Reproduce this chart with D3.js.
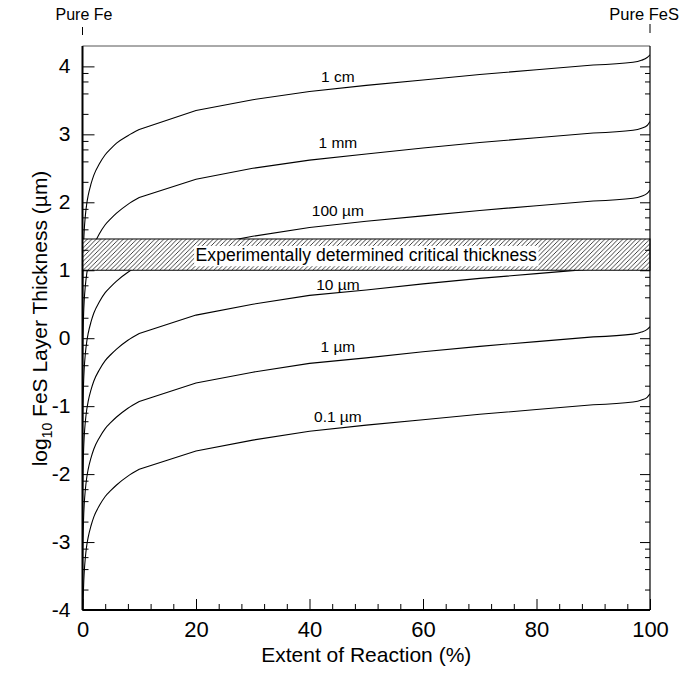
<!DOCTYPE html>
<html>
<head>
<meta charset="utf-8">
<script src="https://cdn.jsdelivr.net/npm/d3@7"></script>
<style>
  body { margin: 0; background: #fff; }
  svg { font-family: "Liberation Sans", Arial, sans-serif; }
  .axis text { fill: #000; }
  .axis line { stroke: #000; }
</style>
</head>
<body>
<svg id="chart" width="680" height="675"></svg>
<script>
// Extent of reaction (%) sampled along every curve
const extent = [0.01, 0.05, 0.1, 0.2, 0.3, 0.5, 0.75, 1, 1.5, 2, 3, 4, 5, 6, 8, 10,
                20, 30, 40, 50, 60, 70, 80, 90, 97, 98.5, 99.5, 100];

// log10 FeS layer thickness (um)
const thick1cm  = [0.07, 0.77, 1.10, 1.40, 1.58, 1.80, 1.98, 2.10, 2.27, 2.40, 2.57, 2.70, 2.79, 2.87, 2.98, 3.07,
                   3.35, 3.51, 3.63, 3.72, 3.80, 3.88, 3.95, 4.02, 4.06, 4.09, 4.13, 4.17];
const thick1mm  = [-0.93, -0.23, 0.07, 0.37, 0.55, 0.77, 0.95, 1.07, 1.24, 1.37, 1.54, 1.67, 1.76, 1.84, 1.97, 2.07,
                   2.34, 2.50, 2.62, 2.71, 2.80, 2.88, 2.95, 3.02, 3.06, 3.09, 3.13, 3.19];
const thick100um = [-1.93, -1.23, -0.93, -0.63, -0.45, -0.23, -0.05, 0.07, 0.24, 0.37, 0.54, 0.67, 0.76, 0.84, 0.97, 1.07,
                   1.34, 1.50, 1.63, 1.72, 1.80, 1.88, 1.95, 2.02, 2.06, 2.09, 2.13, 2.18];
const thick10um = [-2.93, -2.23, -1.93, -1.63, -1.45, -1.23, -1.05, -0.93, -0.76, -0.63, -0.46, -0.33, -0.24, -0.16, -0.03, 0.07,
                   0.34, 0.50, 0.63, 0.71, 0.80, 0.88, 0.95, 1.02, 1.06, 1.09, 1.13, 1.18];
const thick1um  = [-3.93, -3.23, -2.93, -2.63, -2.45, -2.23, -2.05, -1.93, -1.76, -1.63, -1.46, -1.33, -1.24, -1.16, -1.03, -0.93,
                   -0.66, -0.50, -0.37, -0.29, -0.20, -0.12, -0.05, 0.02, 0.06, 0.09, 0.13, 0.17];
const thick01um = [-4.93, -4.23, -3.93, -3.63, -3.45, -3.23, -3.05, -2.93, -2.76, -2.63, -2.46, -2.33, -2.24, -2.16, -2.03, -1.93,
                   -1.66, -1.50, -1.37, -1.28, -1.20, -1.12, -1.05, -0.98, -0.94, -0.91, -0.87, -0.82];

const sizeLabels = ["1 cm", "1 mm", "100 \u00b5m", "10 \u00b5m", "1 \u00b5m", "0.1 \u00b5m"];
const sizeSeries = [thick1cm, thick1mm, thick100um, thick10um, thick1um, thick01um];
// where each curve label sits (extent %, log10 thickness)
const labelExtent = [45, 45, 45, 45, 45, 45];
const labelLog = [3.85, 2.88, 1.88, 0.785, -0.12, -1.155];

// experimentally determined critical thickness band (log10 um)
const critBand = [1.0, 1.46];

const xTicks = [0, 20, 40, 60, 80, 100];
const yTicks = [-4, -3, -2, -1, 0, 1, 2, 3, 4];

var margin = { top: 46, right: 30, bottom: 65, left: 82.5 };
var width = 680 - margin.left - margin.right;
var height = 675 - margin.top - margin.bottom;

var x = d3.scaleLinear().domain([0, 100]).range([0, width]);
var y = d3.scaleLinear().domain([-4, 4.3]).range([height, 0]);

const xMinor = d3.range(0, 101, 4).filter(v => v % 20 !== 0);
const yMinor = [];
yTicks.forEach(t => [2, 4, 6, 8].forEach(m => {
    const v = t + Math.log10(m);
    if (v < 4.28) yMinor.push(v);
}));

const svg = d3.select("#chart");
const defs = svg.append("defs");

defs.append("clipPath").attr("id", "plot-clip")
    .append("rect").attr("width", width).attr("height", height);

const hatch = defs.append("pattern")
    .attr("id", "hatch")
    .attr("patternUnits", "userSpaceOnUse")
    .attr("width", 4.5).attr("height", 4.5);
hatch.append("rect").attr("width", 4.5).attr("height", 4.5).attr("fill", "#fff");
hatch.append("path")
    .attr("d", "M-1,1 l2,-2 M0,4.5 l4.5,-4.5 M3.5,5.5 l2,-2")
    .attr("stroke", "#000").attr("stroke-width", 0.75);

const g = svg.append("g")
    .attr("transform", "translate(" + margin.left + "," + margin.top + ")");

// Curves: smooth near the ends, straight segments between 10% and 90%
const pts = vals => vals.map((v, i) => [extent[i], v]);
const smooth = d3.line().x(d => x(d[0])).y(d => y(d[1])).curve(d3.curveMonotoneX);
const straight = d3.line().x(d => x(d[0])).y(d => y(d[1]));
const i10 = extent.indexOf(10), i90 = extent.indexOf(90);
function curvePath(vals) {
    const p = pts(vals);
    return smooth(p.slice(0, i10 + 1))
        + straight(p.slice(i10, i90 + 1)).replace(/^M/, "L")
        + smooth(p.slice(i90)).replace(/^M/, "L");
}

g.append("g").attr("clip-path", "url(#plot-clip)")
    .selectAll(".curve")
    .data(sizeSeries)
    .enter()
    .append("path")
    .attr("class", "curve")
    .attr("d", d => curvePath(d))
    .attr("fill", "none")
    .attr("stroke", "#000")
    .attr("stroke-width", 1.1);

// Curve labels
g.selectAll(".size-label")
    .data(sizeLabels)
    .enter()
    .append("text")
    .attr("class", "size-label")
    .attr("x", (d, i) => x(labelExtent[i]))
    .attr("y", (d, i) => y(labelLog[i]))
    .attr("dy", "0.35em")
    .attr("text-anchor", "middle")
    .attr("font-size", 15.5)
    .text(d => d);

// Critical thickness band
g.append("rect")
    .attr("x", 0)
    .attr("width", width)
    .attr("y", y(critBand[1]))
    .attr("height", y(critBand[0]) - y(critBand[1]))
    .attr("fill", "url(#hatch)")
    .attr("stroke", "#000")
    .attr("stroke-width", 1);

const bandLabel = g.append("text")
    .attr("x", x(50))
    .attr("y", (y(critBand[0]) + y(critBand[1])) / 2)
    .attr("dy", "0.36em")
    .attr("text-anchor", "middle")
    .attr("font-size", 17.6)
    .text("Experimentally determined critical thickness");
const bb = bandLabel.node().getBBox();
g.insert("rect", "text:last-child")
    .attr("x", bb.x - 1.5)
    .attr("y", y(critBand[1]) + 7)
    .attr("width", bb.width + 3)
    .attr("height", y(critBand[0]) - y(critBand[1]) - 11)
    .attr("fill", "#fff");
bandLabel.raise();

// Axes
g.append("g")
    .attr("class", "axis")
    .attr("transform", "translate(0," + height + ")")
    .call(d3.axisBottom(x).tickValues(xTicks).tickSize(-11).tickPadding(11))
    .call(a => a.select(".domain").remove())
    .selectAll("text").attr("font-size", 22);

g.append("g")
    .attr("class", "axis")
    .attr("transform", "translate(0," + height + ")")
    .call(d3.axisBottom(x).tickValues(xMinor).tickSize(-6).tickFormat(""))
    .call(a => a.select(".domain").remove());

g.append("g")
    .attr("class", "axis")
    .call(d3.axisLeft(y).tickValues(yTicks).tickSize(-12).tickPadding(12).tickFormat(d => String(d)))
    .call(a => a.select(".domain").remove())
    .selectAll("text").attr("font-size", 21).attr("dy", "0.3em");

g.append("g")
    .attr("class", "axis")
    .call(d3.axisLeft(y).tickValues(yMinor).tickSize(-6).tickFormat(""))
    .call(a => a.select(".domain").remove());

g.append("g")
    .attr("class", "axis")
    .attr("transform", "translate(" + width + ",0)")
    .call(d3.axisRight(y).tickValues(yTicks).tickSize(-10).tickFormat(""))
    .call(a => a.select(".domain").remove());

g.append("g")
    .attr("class", "axis")
    .attr("transform", "translate(" + width + ",0)")
    .call(d3.axisRight(y).tickValues(yMinor).tickSize(-5).tickFormat(""))
    .call(a => a.select(".domain").remove());

// Frame
g.append("line").attr("x1", 0).attr("x2", width).attr("y1", 0).attr("y2", 0)
    .attr("stroke", "#555").attr("stroke-width", 1);
g.append("line").attr("x1", width).attr("x2", width).attr("y1", 0).attr("y2", height)
    .attr("stroke", "#000").attr("stroke-width", 1.2);
g.append("line").attr("x1", 0).attr("x2", width).attr("y1", height).attr("y2", height)
    .attr("stroke", "#000").attr("stroke-width", 1.8);
g.append("line").attr("x1", 0).attr("x2", 0).attr("y1", 0).attr("y2", height)
    .attr("stroke", "#000").attr("stroke-width", 2);

// End-member markers
g.append("line").attr("x1", x(0)).attr("x2", x(0)).attr("y1", -19).attr("y2", -11)
    .attr("stroke", "#000").attr("stroke-width", 1);
g.append("line").attr("x1", x(100)).attr("x2", x(100)).attr("y1", -22).attr("y2", -13)
    .attr("stroke", "#000").attr("stroke-width", 1);
svg.append("text")
    .attr("x", margin.left + x(0) + 1.5).attr("y", 19.5)
    .attr("text-anchor", "middle").attr("font-size", 16)
    .text("Pure Fe");
svg.append("text")
    .attr("x", 679).attr("y", 19.5)
    .attr("text-anchor", "end").attr("font-size", 16.5)
    .text("Pure FeS");

// Axis titles
svg.append("text")
    .attr("x", margin.left + width / 2)
    .attr("y", 662)
    .attr("text-anchor", "middle")
    .attr("font-size", 21)
    .text("Extent of Reaction (%)");

const yTitle = svg.append("text")
    .attr("transform", "translate(47," + 318.5 + ") rotate(-90)")
    .attr("text-anchor", "middle")
    .attr("font-size", 21);
yTitle.append("tspan").text("log");
yTitle.append("tspan").attr("font-size", 14).attr("dy", 5).text("10");
yTitle.append("tspan").attr("dy", -5).text(" FeS Layer Thickness (\u00b5m)");
</script>
</body>
</html>
